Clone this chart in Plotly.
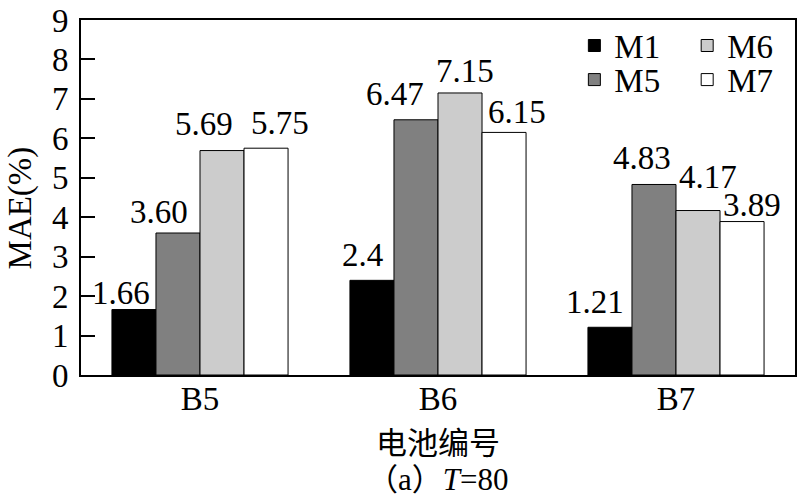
import plotly.graph_objects as go

categories = ["B5", "B6", "B7"]
series_names = ["M1", "M5", "M6", "M7"]
values = {
    "M1": [1.66, 2.40, 1.21],
    "M5": [3.60, 6.47, 4.83],
    "M6": [5.69, 7.15, 4.17],
    "M7": [5.75, 6.15, 3.89],
}
labels = {
    "M1": ["1.66", "2.4", "1.21"],
    "M5": ["3.60", "6.47", "4.83"],
    "M6": ["5.69", "7.15", "4.17"],
    "M7": ["5.75", "6.15", "3.89"],
}
# pixel nudges of the value labels, as placed in the original figure
label_dx = {
    "M1": [-13, -9, -15],
    "M5": [-19, -21, -12],
    "M6": [-18, 5, 10],
    "M7": [14, 13, 10],
}
label_gap = {
    "M1": [4, 12, 12],
    "M5": [8, 13, 13],
    "M6": [14, 9, 21],
    "M7": [12, 7, 4],
}
colors = {"M1": "#000000", "M5": "#808080", "M6": "#cccccc", "M7": "#ffffff"}
legend_of = {"M1": "legend", "M5": "legend2", "M6": "legend3", "M7": "legend4"}

FONT = "Liberation Serif"
FS = 33
BARGAP = 0.26

fig = go.Figure()
for name in series_names:
    fig.add_trace(go.Bar(
        x=categories, y=values[name], name=name,
        marker=dict(color=colors[name], line=dict(color="#000000", width=1)),
        legend=legend_of[name],
    ))

annotations = []
n = len(series_names)
bar_w = (1 - BARGAP) / n
for k, name in enumerate(series_names):
    for i, cat in enumerate(categories):
        annotations.append(dict(
            x=i + (k - (n - 1) / 2) * bar_w, y=values[name][i],
            xref="x", yref="y", text=labels[name][i], showarrow=False,
            xanchor="center", yanchor="bottom",
            xshift=label_dx[name][i], yshift=label_gap[name][i] - 7,
            font=dict(family=FONT, size=FS, color="#000000"),
        ))

annotations += [
    dict(text="MAE(%)", x=-0.085, y=0.47, xref="paper", yref="paper",
         showarrow=False, xanchor="center", yanchor="middle", textangle=-90,
         font=dict(family=FONT, size=FS, color="#000000")),
    dict(text="电池编号", x=0.5, y=-0.184, xref="paper", yref="paper",
         showarrow=False, xanchor="center", yanchor="middle",
         font=dict(family="Noto Sans CJK SC", size=31, color="#000000")),
    dict(text="（a）<i>T</i>=80", x=0.5, y=-0.293, xref="paper", yref="paper",
         showarrow=False, xanchor="center", yanchor="middle", height=34,
         font=dict(family="Liberation Serif, Noto Sans CJK SC", size=31, color="#000000")),
]

legend_style = dict(font=dict(family=FONT, size=FS, color="#000000"),
                    bgcolor="rgba(0,0,0,0)", borderwidth=0,
                    tracegroupgap=0, itemwidth=30,
                    xanchor="left", yanchor="middle", yref="paper")

fig.update_layout(
    width=800, height=498,
    margin=dict(l=81, r=3, t=17, b=123),
    paper_bgcolor="white", plot_bgcolor="white",
    barmode="group", bargap=BARGAP, bargroupgap=0,
    showlegend=True,
    font=dict(family=FONT, size=FS, color="#000000"),
    legend=dict(x=0.691, y=0.928, **legend_style),
    legend2=dict(x=0.691, y=0.832, **legend_style),
    legend3=dict(x=0.849, y=0.928, **legend_style),
    legend4=dict(x=0.849, y=0.832, **legend_style),
    xaxis=dict(showline=True, linecolor="#000000", linewidth=2, mirror=True,
               ticks="", tickfont=dict(family=FONT, size=FS),
               ticklabelstandoff=-7, range=[-0.5, 2.5]),
    yaxis=dict(range=[0, 9], dtick=1, showline=True, linecolor="#000000",
               linewidth=2, mirror=True, ticks="inside", ticklen=14,
               tickwidth=2, tickcolor="#000000", showgrid=False,
               zeroline=False, tickfont=dict(family=FONT, size=FS),
               ticklabelstandoff=4, ticklabeloverflow="allow"),
    annotations=annotations,
)

fig.write_html("out.html", config={"displayModeBar": False},
               post_script="document.body.style.margin='0';")
